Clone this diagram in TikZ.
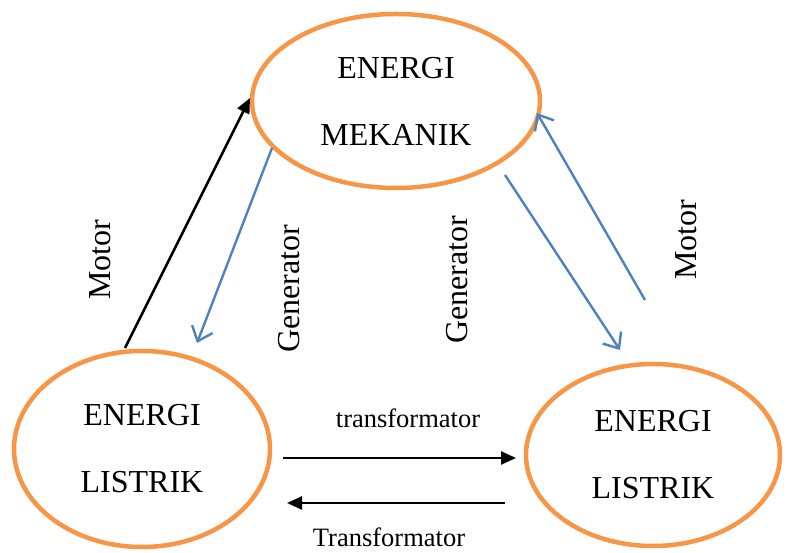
\documentclass[tikz,border=0pt]{standalone}
\usepackage{fontspec}
\setmainfont{Liberation Serif}
\usetikzlibrary{shapes.geometric,arrows.meta}
\definecolor{ringorange}{HTML}{F79646}
\definecolor{flowblue}{HTML}{4F81BD}
\tikzset{
  energy/.style={ellipse, draw=ringorange, line width=4.5pt, inner sep=0pt,
    align=center, font=\fontsize{32}{67}\selectfont},
  blackarrow/.style={draw=black, line width=2.5pt, -{Triangle[length=15pt,width=13pt]}},
  bluearrow/.style={draw=flowblue, line width=2.4pt, -{Straight Barb[length=13pt,width=22pt,line width=2.4pt]}},
  biglabel/.style={font=\fontsize{32}{38}\selectfont, inner sep=0pt},
  smalllabel/.style={font=\fontsize{26.5}{32}\selectfont, inner sep=0pt}
}
\begin{document}
\begin{tikzpicture}[x=1pt,y=1pt]
\useasboundingbox (0,0) rectangle (787,553);

% the three energy forms
\node[energy, minimum width=288pt, minimum height=174pt] (mek) at (396,452) {ENERGI\\MEKANIK};
\node[energy, minimum width=256pt, minimum height=196pt] (lisL) at (142,104) {ENERGI\\LISTRIK};
\node[energy, minimum width=254pt, minimum height=182pt] (lisR) at (653,98) {ENERGI\\LISTRIK};

% free ends of the connectors
\coordinate (motL0) at (125,205);
\coordinate (motL1) at (250,455);
\coordinate (genL0) at (272,405);
\coordinate (genL1) at (197,210);
\coordinate (genR0) at (505,378);
\coordinate (genR1) at (620,203);
\coordinate (motR0) at (645,253);
\coordinate (motR1) at (537,440);
\coordinate (trA0) at (283,95);
\coordinate (trA1) at (516,95);
\coordinate (trB0) at (505,50);
\coordinate (trB1) at (287,50);

% conversions
\draw[blackarrow] (motL0) -- (motL1);
\draw[bluearrow] (genL0) -- (genL1);
\draw[bluearrow] (genR0) -- (genR1);
\draw[bluearrow] (motR0) -- (motR1);
\draw[blackarrow] (trA0) -- (trA1);
\draw[blackarrow] (trB0) -- (trB1);

% labels
\node[biglabel, rotate=90] (lblMotL) at (100,293) {Motor};
\node[biglabel, rotate=90] (lblGenL) at (289,264) {Generator};
\node[biglabel, rotate=90] (lblGenR) at (457,273) {Generator};
\node[biglabel, rotate=90] (lblMotR) at (686,313) {Motor};
\node[smalllabel] (lblTrA) at (408,135) {transformator};
\node[smalllabel] (lblTrB) at (389,16) {Transformator};
\end{tikzpicture}
\end{document}
